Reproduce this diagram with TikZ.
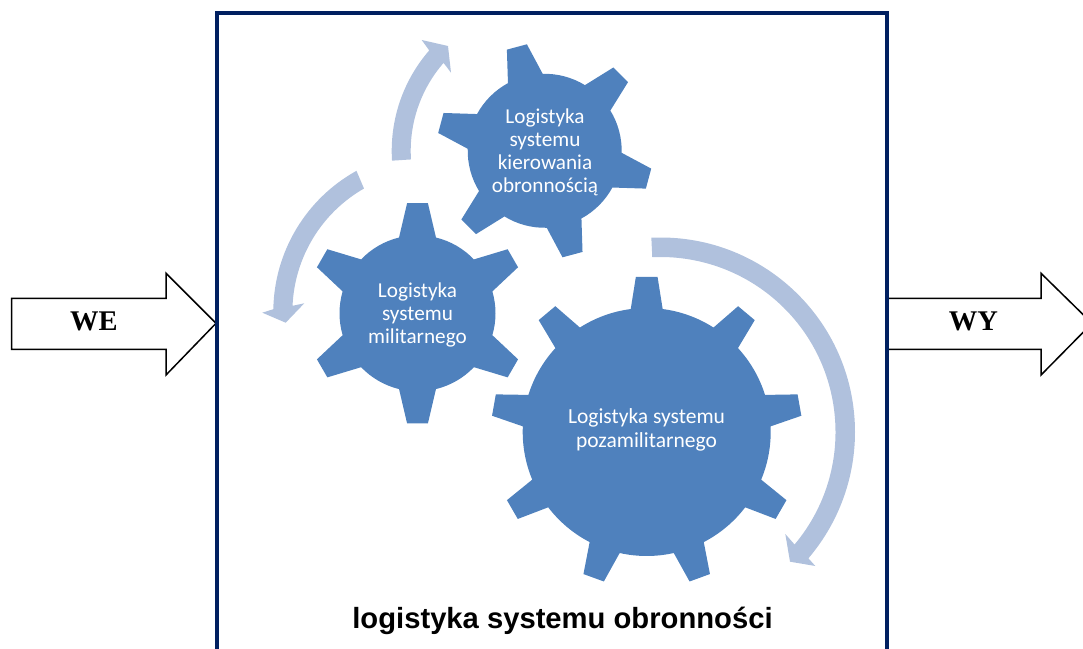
\documentclass[tikz,border=0pt]{standalone}
\usepackage{fontspec}
\setmainfont{Liberation Serif}
\newfontfamily\gearfont{Carlito}
\newfontfamily\capfont{Liberation Sans}
\definecolor{gearblue}{HTML}{4F81BD}
\definecolor{arcblue}{HTML}{B0C1DD}
\definecolor{framenavy}{HTML}{002060}
\tikzset{
  gearshape/.style={fill=gearblue,draw=none},
  arcshape/.style={fill=arcblue,draw=none},
  blockarrow/.style={fill=white,draw=black,line width=1.5pt,line join=miter},
  gearlabel/.style={text=white,font=\gearfont\fontsize{21.2}{23}\selectfont,align=center,inner sep=0pt},
  biglabel/.style={text=white,font=\gearfont\fontsize{21.5}{24.5}\selectfont,align=center,inner sep=0pt},
  iolabel/.style={text=black,font=\bfseries\fontsize{28.5}{30}\selectfont,inner sep=0pt},
  caplabel/.style={text=black,font=\capfont\bfseries\fontsize{29.2}{30}\selectfont,inner sep=0pt},
}
% #1 centre, #2 first tooth angle, #3 teeth, #4 body radius, #5 tooth half angle at base, #6 tip radius, #7 tip half angle
\newcommand{\cogwheel}[7]{%
  \pgfmathsetmacro{\cogstep}{360/#3}
  \pgfmathtruncatemacro{\coglast}{#3-1}
  \fill[gearshape,shift={(#1)}] ({#2-#5}:#4)
    \foreach \i in {0,...,\coglast}{
      -- ({#2+\i*\cogstep-#7}:#6) -- ({#2+\i*\cogstep+#7}:#6) -- ({#2+\i*\cogstep+#5}:#4)
      arc[start angle={#2+\i*\cogstep+#5},end angle={#2+(\i+1)*\cogstep-#5},radius=#4]
    } -- cycle;%
}
\begin{document}
\begin{tikzpicture}[x=1pt,y=1pt]
\useasboundingbox (0,0) rectangle (1083,648);
\clip (0,0) rectangle (1083,648);
% in/out block arrows
\draw[blockarrow] (11.7,349.7) -- (166,349.7) -- (166,374.7) -- (216,324.7) -- (166,273) -- (166,298.7) -- (11.7,298.7) -- cycle;
\draw[blockarrow] (887,349.7) -- (1041,349.7) -- (1041,374.7) -- (1092,324.7) -- (1041,273) -- (1041,298.7) -- (887,298.7) -- cycle;
% frame
\draw[framenavy,line width=4pt] (217,-10) -- (217,635) -- (887,635) -- (887,-10);
\node[iolabel] (we) at (94,327) {WE};
\node[iolabel] (wy) at (973.5,327) {WY};
% gears
\coordinate (gearbig) at (646.7,216);
\coordinate (gearmil) at (417.5,334.7);
\coordinate (gearctl) at (544.7,497.2);
\cogwheel{gearbig}{90}{9}{124}{7.4}{155.5}{4}
\cogwheel{gearmil}{90}{6}{78}{13.7}{110.6}{5.4}
\cogwheel{gearctl}{105}{6}{77}{13.5}{108}{5.5}
% curved arrows
\coordinate (arcctl) at (544.7,497.2);
\coordinate (arcmil) at (434.7,336);
\coordinate (arcbig) at (660.5,216);
\coordinate (tipctl) at (448,602);
\coordinate (tipmil) at (285.7,325.3);
\coordinate (tipbig) at (790,86.3);
\fill[arcshape] ([shift={(183.7:153)}]arcctl) arc[start angle=183.7,end angle=139,radius=153]
  -- (421.7,608) -- (tipctl) -- (451,575.3) -- ([shift={(139:134)}]arcctl)
  arc[start angle=139,end angle=183.7,radius=134] -- cycle;
\fill[arcshape] ([shift={(119:161.4)}]arcmil) arc[start angle=119,end angle=179,radius=161.4]
  -- (262.3,335.3) -- (tipmil) -- (304.3,344.7) -- ([shift={(177.5:142.3)}]arcmil)
  arc[start angle=177.5,end angle=119.8,radius=142.3] -- cycle;
\fill[arcshape] ([shift={(92.7:194.5)}]arcbig) arc[start angle=92.7,end angle=-40.5,radius=194.5]
  -- (815.3,82) -- (tipbig) -- (785.3,114) -- ([shift={(-40:175)}]arcbig)
  arc[start angle=-40,end angle=92.7,radius=175] -- cycle;
% labels
\node[gearlabel] (lctl) at (545,495.5) {Logistyka\\systemu\\kierowania\\obronnością};
\node[gearlabel] (lmil) at (417.5,333) {Logistyka\\systemu\\militarnego};
\node[biglabel] (lbig) at (646.5,218) {Logistyka systemu\\pozamilitarnego};
\node[caplabel] (cap) at (562.5,27) {logistyka systemu obronności};
\end{tikzpicture}
\end{document}
